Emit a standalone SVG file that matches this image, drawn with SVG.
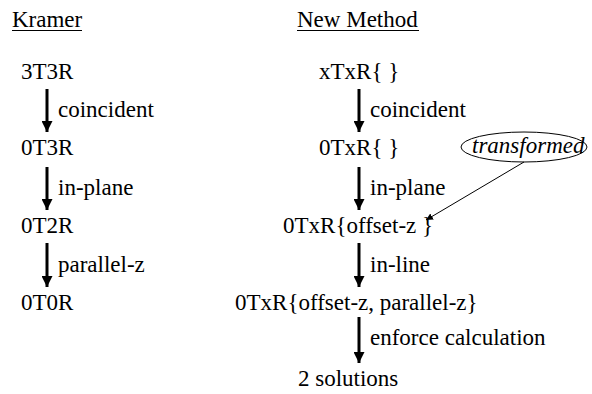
<svg xmlns="http://www.w3.org/2000/svg" width="592" height="394" viewBox="0 0 592 394" font-family="'Liberation Serif', 'Times New Roman', serif" font-size="23">
<style>
.it{font-style:italic}
.arr{stroke:#000;stroke-width:3;fill:none}
.thin{stroke:#000;stroke-width:1;fill:none}
</style>
<defs>
<marker id="ah" viewBox="0 0 10 10" refX="10" refY="5" markerWidth="11" markerHeight="11" markerUnits="userSpaceOnUse" orient="auto">
<path d="M0,0 L10,5 L0,10 z" fill="#000"/>
</marker>
<marker id="sm" viewBox="0 0 10 10" refX="10" refY="5" markerWidth="7" markerHeight="7" markerUnits="userSpaceOnUse" orient="auto">
<path d="M0,0 L10,5 L0,10 z" fill="#000"/>
</marker>
</defs>
<g id="headers">
<text x="12" y="27">Kramer</text>
<line x1="12" y1="30.5" x2="82" y2="30.5" class="thin"/>
<text x="297" y="27">New Method</text>
<line x1="297" y1="30.5" x2="419" y2="30.5" class="thin"/>
</g>
<g id="k1"><text x="21" y="79">3T3R</text></g>
<g id="k2"><text x="21" y="155">0T3R</text></g>
<g id="k3"><text x="21" y="233">0T2R</text></g>
<g id="k4"><text x="21" y="310">0T0R</text></g>
<g id="n1"><text x="319" y="79">xTxR{ }</text></g>
<g id="n2"><text x="319" y="155">0TxR{ }</text></g>
<g id="n3"><text x="283" y="233">0TxR{offset-z }</text></g>
<g id="n4"><text x="235" y="310">0TxR{offset-z, parallel-z}</text></g>
<g id="n5"><text x="298" y="386">2 solutions</text></g>
<g id="note">
<ellipse cx="524" cy="147" rx="63" ry="15" class="thin"/>
<text x="472" y="153" class="it">transformed</text>
</g>
<g id="connectors">
<line x1="47" y1="89" x2="47" y2="132" class="arr" marker-end="url(#ah)"/>
<line x1="47" y1="167" x2="47" y2="210" class="arr" marker-end="url(#ah)"/>
<line x1="47" y1="243" x2="47" y2="287" class="arr" marker-end="url(#ah)"/>
<line x1="359" y1="89" x2="359" y2="132" class="arr" marker-end="url(#ah)"/>
<line x1="359" y1="167" x2="359" y2="210" class="arr" marker-end="url(#ah)"/>
<line x1="359" y1="243" x2="359" y2="287" class="arr" marker-end="url(#ah)"/>
<line x1="359" y1="317" x2="359" y2="363" class="arr" marker-end="url(#ah)"/>
<line x1="524" y1="162" x2="426" y2="220" class="thin" marker-end="url(#sm)"/>
<text x="58" y="117">coincident</text>
<text x="58" y="195">in-plane</text>
<text x="58" y="272">parallel-z</text>
<text x="370" y="117">coincident</text>
<text x="370" y="195">in-plane</text>
<text x="370" y="272">in-line</text>
<text x="370" y="345">enforce calculation</text>
</g>
</svg>
